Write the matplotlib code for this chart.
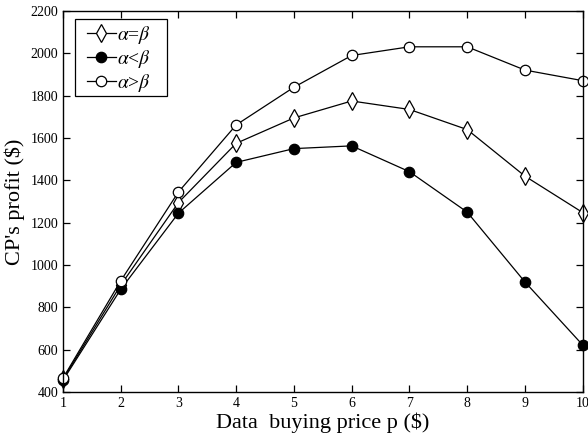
import matplotlib
matplotlib.use("Agg")
import matplotlib.pyplot as plt
from matplotlib.patches import Rectangle

plt.rcParams['font.family'] = ['Liberation Serif', 'DejaVu Serif']
plt.rcParams['mathtext.fontset'] = 'stix'

price = [1, 2, 3, 4, 5, 6, 7, 8, 9, 10]
profit_equal = [460, 905, 1295, 1575, 1695, 1775, 1735, 1640, 1420, 1248]
profit_less = [455, 885, 1245, 1485, 1550, 1563, 1441, 1250, 920, 622]
profit_greater = [465, 925, 1345, 1662, 1840, 1990, 2031, 2031, 1921, 1871]

labels = [r'$\alpha$=$\beta$', r'$\alpha$<$\beta$', r'$\alpha$>$\beta$']
y_ticks = [400, 600, 800, 1000, 1200, 1400, 1600, 1800, 2000, 2200]

fig = plt.figure(figsize=(5.88, 4.41), dpi=100)
ax = fig.add_axes([0.107, 0.111, 0.884, 0.864])

ms = 7.5
ax.plot(price, profit_equal, '-', color='black', lw=0.9, marker='d', ms=ms + 1.5,
        mfc='white', mec='black', mew=0.9, label=labels[0], clip_on=False)
ax.plot(price, profit_less, '-', color='black', lw=0.9, marker='o', ms=ms,
        mfc='black', mec='black', mew=0.9, label=labels[1], clip_on=False)
ax.plot(price, profit_greater, '-', color='black', lw=0.9, marker='o', ms=ms,
        mfc='white', mec='black', mew=0.9, label=labels[2], clip_on=False)

ax.set_xlim(1, 10)
ax.set_ylim(400, 2200)
ax.set_xticks(price)
ax.set_yticks(y_ticks)
ax.tick_params(direction='in', top=True, right=True, labelsize=10, length=5, width=0.9)
for s in ax.spines.values():
    s.set_linewidth(1.0)

ax.set_xlabel('Data  buying price p ($)', fontsize=16, labelpad=2)
ax.set_ylabel("CP's profit ($)", fontsize=16, labelpad=4)

# legend entries without their own frame, boxed by a separate rectangle
leg = ax.legend(loc='upper left', bbox_to_anchor=(0.047, 0.966), fontsize=14,
                frameon=False, handlelength=1.45, handletextpad=0.1,
                borderpad=0.0, labelspacing=0.1, borderaxespad=0.0)
ax.add_patch(Rectangle((0.023, 0.777), 0.177, 0.202, transform=ax.transAxes,
                       fill=False, edgecolor='black', lw=0.9, zorder=5))

fig.savefig('out.png', dpi=100)
